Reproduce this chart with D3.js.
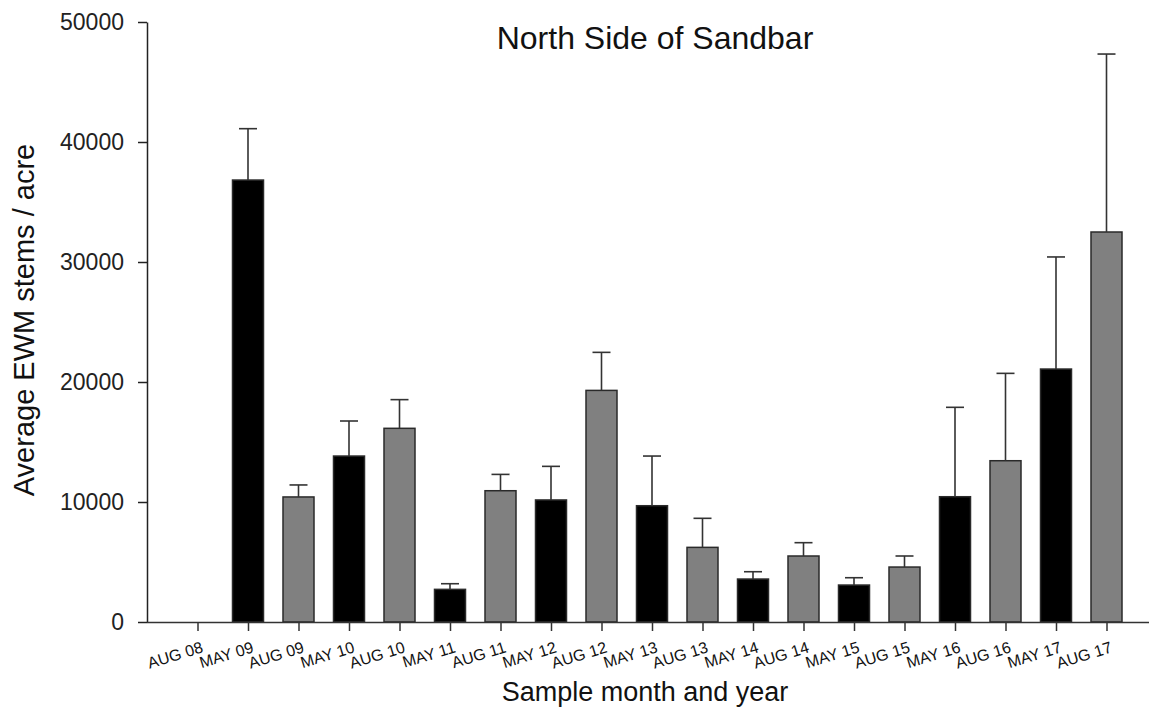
<!DOCTYPE html>
<html>
<head>
<meta charset="utf-8">
<script src="https://cdn.jsdelivr.net/npm/d3@7"></script>
<style>
  html, body { margin: 0; padding: 0; background: #fff; }
  svg { display: block; font-family: "Liberation Sans", Arial, sans-serif; }
</style>
</head>
<body>
<svg id="chart" width="1149" height="710"></svg>
<script>
// Sampling periods (May = black bars, August = grey bars)
const categories = ["AUG 08", "MAY 09", "AUG 09", "MAY 10", "AUG 10", "MAY 11", "AUG 11",
  "MAY 12", "AUG 12", "MAY 13", "AUG 13", "MAY 14", "AUG 14", "MAY 15", "AUG 15",
  "MAY 16", "AUG 16", "MAY 17", "AUG 17"];
// Mean EWM stems per acre
const means = [0, 36830, 10420, 13830, 16140, 2720, 10940, 10170, 19300, 9690, 6220,
  3580, 5500, 3080, 4580, 10440, 13440, 21080, 32500];
// Upper error (added to the mean)
const errors = [0, 4280, 1000, 2920, 2390, 470, 1360, 2800, 3170, 4140, 2420,
  610, 1110, 610, 920, 7450, 7280, 9340, 14830];
const yTicks = [0, 10000, 20000, 30000, 40000, 50000];

const svg = d3.select("#chart");
const plotLeft = 147, plotRight = 1157, plotTop = 22, plotBottom = 622;

const x = d3.scalePoint().domain(categories).range([plotLeft, plotRight]).padding(1);
const y = d3.scaleLinear().domain([0, 50000]).range([plotBottom, plotTop]);
const barW = 31, capW = 18;

const data = categories.map((c, i) => ({ cat: c, mean: means[i], err: errors[i] }));
const colour = c => c.startsWith("MAY") ? "#000000" : "#808080";

// bars
svg.append("g").selectAll("rect")
  .data(data.filter(d => d.mean > 0))
  .join("rect")
  .attr("x", d => x(d.cat) - barW / 2)
  .attr("y", d => y(d.mean))
  .attr("width", barW)
  .attr("height", d => y(0) - y(d.mean))
  .attr("fill", d => colour(d.cat))
  .attr("stroke", "#2a2a2a")
  .attr("stroke-width", 1.5);

// upper error bars
const eb = svg.append("g").attr("stroke", "#333").attr("stroke-width", 1.6)
  .selectAll("g").data(data.filter(d => d.err > 0)).join("g");
eb.append("line")
  .attr("x1", d => x(d.cat)).attr("x2", d => x(d.cat))
  .attr("y1", d => y(d.mean)).attr("y2", d => y(d.mean + d.err));
eb.append("line")
  .attr("x1", d => x(d.cat) - capW / 2).attr("x2", d => x(d.cat) + capW / 2)
  .attr("y1", d => y(d.mean + d.err)).attr("y2", d => y(d.mean + d.err));

// y axis
const yAxis = svg.append("g")
  .attr("transform", `translate(${plotLeft},0)`)
  .call(d3.axisLeft(y).tickValues(yTicks).tickSize(9).tickSizeOuter(0).tickPadding(14).tickFormat(d3.format("d")));
yAxis.selectAll("text").attr("font-size", 23).attr("fill", "#222").attr("font-family", "Liberation Sans, Arial");
yAxis.selectAll("line, path").attr("stroke", "#222").attr("stroke-width", 1.5);

// x axis
const xAxis = svg.append("g")
  .attr("transform", `translate(0,${plotBottom})`)
  .call(d3.axisBottom(x).tickSize(9).tickSizeOuter(0));
xAxis.select("path.domain").attr("d", `M${plotLeft},0.5H1149`);
xAxis.selectAll("line, path").attr("stroke", "#333").attr("stroke-width", 1.5);
xAxis.selectAll("text")
  .attr("font-size", 16)
  .attr("fill", "#111")
  .attr("font-family", "Liberation Sans, Arial")
  .attr("text-anchor", "end")
  .attr("dy", null)
  .attr("y", null)
  .attr("transform", "translate(6,30) rotate(-17)");

// titles
svg.append("text")
  .attr("x", 655).attr("y", 49)
  .attr("text-anchor", "middle")
  .attr("font-size", 32).attr("fill", "#111")
  .text("North Side of Sandbar");

svg.append("text")
  .attr("x", 645).attr("y", 701)
  .attr("text-anchor", "middle")
  .attr("font-size", 27).attr("fill", "#111")
  .text("Sample month and year");

svg.append("text")
  .attr("transform", "translate(34,320) rotate(-90)")
  .attr("text-anchor", "middle")
  .attr("font-size", 29).attr("fill", "#111")
  .text("Average EWM stems / acre");
</script>
</body>
</html>
